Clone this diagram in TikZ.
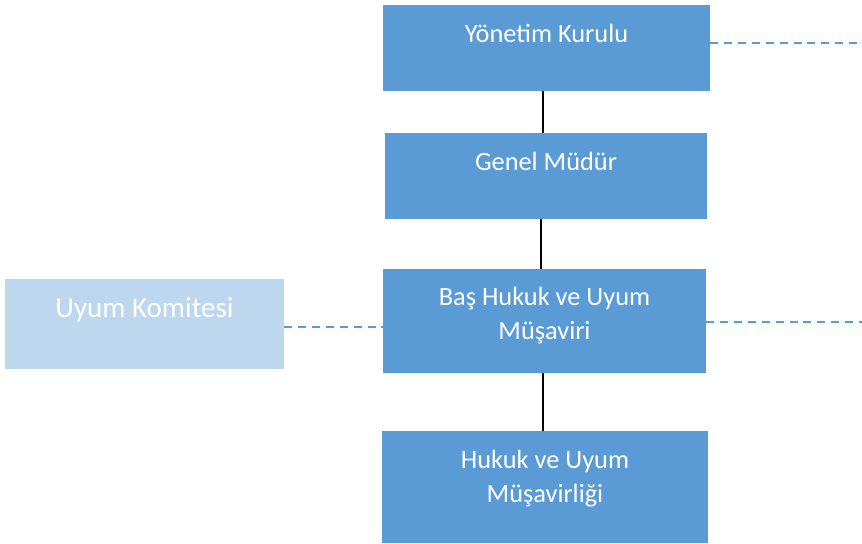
\documentclass[tikz,border=0pt]{standalone}
\usepackage{fontspec}
\setmainfont{Carlito}
\usepackage{tikz}
\usepackage{xcolor}

\definecolor{kutumavi}{HTML}{5B9BD5}
\definecolor{acikmavi}{HTML}{BDD7EE}

\begin{document}
\begin{tikzpicture}[x=0.02cm, y=-0.02cm,
    kutu/.style={fill=kutumavi, text=white, inner sep=0pt, align=center, font=\fontsize{15}{19.5}\selectfont},
    baglanti/.style={draw=black, line width=1.5pt},
    kesikli/.style={draw=kutumavi, line width=1.1pt, dash pattern=on 4.5pt off 3.4pt}]

    \useasboundingbox (0,0) rectangle (862,544);

    % Main chain
    \node[kutu, minimum width=6.54cm, minimum height=1.72cm, text depth=17pt] (yk) at (546.5,48) {Yönetim Kurulu};
    \node[kutu, minimum width=6.44cm, minimum height=1.72cm, text depth=17pt] (gm) at (546,176) {Genel Müdür};
    \node[kutu, minimum width=6.46cm, minimum height=2.08cm, text depth=9pt] (bh) at (544.5,321) {Baş Hukuk ve Uyum\\Müşaviri};
    \node[kutu, minimum width=6.52cm, minimum height=2.24cm, text depth=12pt] (hu) at (545,487) {Hukuk ve Uyum\\Müşavirliği};

    % Side box
    \node[kutu, fill=acikmavi, minimum width=5.58cm, minimum height=1.8cm, text depth=19pt, font=\fontsize{16.5}{20}\selectfont] (uk) at (144.5,324) {Uyum Komitesi};

    % Free ends of dashed lines
    \coordinate (sag1) at (862,43);
    \coordinate (sag2) at (862,322);

    % Solid connectors
    \draw[baglanti] ([xshift=-0.07cm]yk.south) -- ([xshift=-0.07cm]yk.south |- gm.north);
    \draw[baglanti] ([xshift=-0.1cm]gm.south) -- ([xshift=-0.1cm]gm.south |- bh.north);
    \draw[baglanti] ([xshift=-0.03cm]bh.south) -- ([xshift=-0.03cm]bh.south |- hu.north);

    % Dashed connectors
    \draw[kesikli] (yk.east |- sag1) -- (sag1);
    \draw[kesikli] (bh.east |- sag2) -- (sag2);
    \draw[kesikli] ([yshift=-0.06cm]uk.east) -- ([yshift=-0.06cm]uk.east -| bh.west);

\end{tikzpicture}
\end{document}
